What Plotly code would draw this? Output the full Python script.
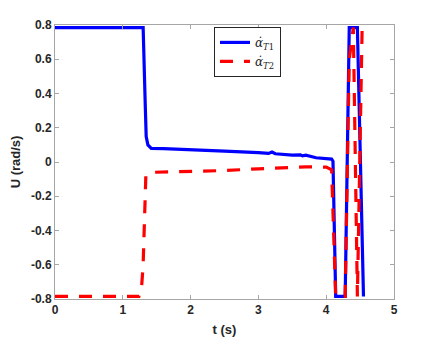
import plotly.graph_objects as go

# Control inputs of the two thrusters (rad/s) over time (s)
t_T1 = [0, 1.30, 1.33, 1.345, 1.37, 1.42, 1.6, 2.0, 2.5, 3.0, 3.15, 3.2, 3.25,
        3.5, 3.62, 3.65, 3.7, 3.85, 4.0, 4.08, 4.10, 4.14, 4.28, 4.34, 4.46, 4.55]
u_T1 = [0.785, 0.785, 0.35, 0.148, 0.1, 0.08, 0.078, 0.073, 0.063, 0.055, 0.05,
        0.058, 0.048, 0.04, 0.042, 0.036, 0.04, 0.025, 0.022, 0.017, 0.005,
        -0.785, -0.785, 0.785, 0.785, -0.785]

t_T2 = [0, 1.24, 1.27, 1.30, 1.34, 1.38, 1.45, 2.0, 2.5, 3.0, 3.2, 3.5, 3.7,
        4.0, 4.08, 4.14, 4.28, 4.34, 4.40, 4.46, 4.53]
u_T2 = [-0.785, -0.785, -0.77, -0.6, -0.08, -0.065, -0.06, -0.056, -0.05,
        -0.04, -0.035, -0.032, -0.028, -0.03, -0.045, -0.785, -0.785, 0.6,
        0.785, -0.785, 0.785]

x_ticks = [0, 1, 2, 3, 4, 5]
x_labels = ['0', '1', '2', '3', '4', '5']
y_ticks = [-0.8, -0.6, -0.4, -0.2, 0, 0.2, 0.4, 0.6, 0.8]
y_labels = ['-0.8', '-0.6', '-0.4', '-0.2', '0', '0.2', '0.4', '0.6', '0.8']

fig = go.Figure()
fig.add_trace(go.Scatter(x=t_T1, y=u_T1, mode='lines',
                         name='<i>α̇</i><sub><i>T</i>1</sub>',
                         line=dict(color='#0000ff', width=3.2)))
fig.add_trace(go.Scatter(x=t_T2, y=u_T2, mode='lines',
                         name='<i>α̇</i><sub><i>T</i>2</sub>',
                         line=dict(color='#ff0000', width=3.2, dash='13px,11px')))

axis_style = dict(showline=True, linecolor='#a6a6a6', linewidth=1, mirror='ticks',
                  ticks='inside', ticklen=4, tickcolor='#a6a6a6', showgrid=False,
                  zeroline=False, automargin=False,
                  tickfont=dict(family='Liberation Sans', size=12, color='#262626'))

# the page body adds 8px at the top and left, so the margins make up for it
fig.update_layout(
    width=436, height=338,
    margin=dict(l=47, r=50, t=17, b=47),
    plot_bgcolor='white', paper_bgcolor='white',
    font=dict(family='Liberation Sans', color='#262626'),
    xaxis=dict(range=[0, 5], tickvals=x_ticks,
               ticktext=['<b>' + s + '</b>' for s in x_labels],
               title=dict(text='<b>t (s)</b>', font=dict(size=13), standoff=8),
               **axis_style),
    yaxis=dict(range=[-0.8, 0.8], tickvals=y_ticks,
               ticktext=['<b>' + s + '</b>' for s in y_labels],
               title=dict(text='<b>U (rad/s)</b>', font=dict(size=13), standoff=7),
               **axis_style),
    legend=dict(x=0.469, y=0.993, xanchor='left', yanchor='top',
                bgcolor='white', bordercolor='#262626', borderwidth=1,
                font=dict(family='DejaVu Serif', size=12, color='#262626'),
                tracegroupgap=0, itemwidth=30),
    showlegend=True,
)

fig.write_html("out.html")
